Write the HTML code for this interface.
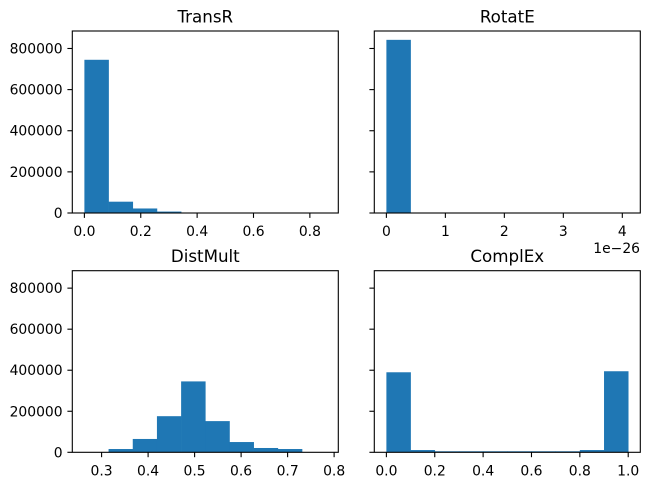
<!DOCTYPE html>
<html><head><meta charset="utf-8"><style>
html,body{margin:0;padding:0;background:#fff;}
svg{display:block;font-family:"DejaVu Sans","Liberation Sans",sans-serif;}
</style></head><body>
<svg id="fig" width="649" height="486" viewBox="0 0 649 486"></svg>
<script>
const transrEdgesStart = 0, transrBinWidth = 0.0858;
const transrCounts = [745000, 55000, 22000, 7000, 2000, 1000, 500, 300, 200, 100];
const rotateEdgesStart = 0, rotateBinWidth = 0.41;
const rotateCounts = [842000, 0, 0, 0, 0, 0, 0, 0, 0, 100];
const distmultEdgesStart = 0.263, distmultBinWidth = 0.052;
const distmultCounts = [1000, 16000, 65000, 176000, 345500, 152000, 50000, 21000, 16000, 1000];
const complexEdgesStart = 0, complexBinWidth = 0.1;
const complexCounts = [390000, 11000, 5000, 5000, 5000, 5000, 5000, 5000, 11000, 395000];
const yTicks = [0, 200000, 400000, 600000, 800000];
const transrXTicks = [0, 0.2, 0.4, 0.6, 0.8];
const rotateXTicks = [0, 1, 2, 3, 4];
const distmultXTicks = [0.3, 0.4, 0.5, 0.6, 0.7, 0.8];
const complexXTicks = [0, 0.2, 0.4, 0.6, 0.8, 1.0];
const yMax = 885000;

const NS = "http://www.w3.org/2000/svg";
const svg = document.getElementById('fig');
function mk(tag, attrs, parent){const e=document.createElementNS(NS,tag);for(const k in attrs)e.setAttribute(k,attrs[k]);(parent||svg).appendChild(e);return e;}

function panel(key, title, box, start, bw, counts, xticks, xfmt, showYLabels){
  const g = mk('g',{});
  
  
  const n = counts.length, x0 = start, x1 = start + bw*n, r = x1-x0;
  const xmin = x0 - 0.05*r, xmax = x1 + 0.05*r;
  const X = v => box.l + (v - xmin)/(xmax - xmin)*(box.r - box.l);
  const Y = v => box.b - v/yMax*(box.b - box.t);
  counts.forEach((c,i)=>{
    const xa = X(start + i*bw), xb = X(start + (i+1)*bw);
    const rect = mk('rect',{x:xa, y:Y(c), width:xb-xa+0.3, height:Math.max(0,box.b-Y(c)), fill:'#1f77b4'}, g);
    
    
  });
  const frame = mk('rect',{x:box.l, y:box.t, width:box.r-box.l, height:box.b-box.t, fill:'none', stroke:'#000', 'stroke-width':1.1}, g);
  
  
  xticks.forEach(t=>{
    const x = X(t);
    mk('line',{x1:x,x2:x,y1:box.b,y2:box.b+4.9,stroke:'#000','stroke-width':1.1},g);
    const tx = mk('text',{x:x,y:box.b+23,'font-size':13.9,'text-anchor':'middle',fill:'#000'},g);
    tx.textContent = xfmt(t);
    
    
  });
  yTicks.forEach(t=>{
    const y = Y(t);
    mk('line',{x1:box.l-4.9,x2:box.l,y1:y,y2:y,stroke:'#000','stroke-width':1.1},g);
    if(showYLabels){
      const ty = mk('text',{x:box.l-9.7,y:y+5,'font-size':13.9,'text-anchor':'end',fill:'#000'},g);
      ty.textContent = String(t);
      
      
    }
  });
  const tt = mk('text',{x:(box.l+box.r)/2,y:box.t-8.5,'font-size':16.7,'text-anchor':'middle',fill:'#000'},g);
  tt.textContent = title;
  
  
}
const f1 = t => t.toFixed(1);
panel('transr','TransR',{l:72.3,r:338.3,t:31,b:213},transrEdgesStart,transrBinWidth,transrCounts,transrXTicks,f1,true);
panel('rotate','RotatE',{l:374.3,r:640.3,t:31,b:213},rotateEdgesStart,rotateBinWidth,rotateCounts,rotateXTicks,t=>String(t),false);
panel('distmult','DistMult',{l:72.3,r:338.3,t:270.7,b:452.3},distmultEdgesStart,distmultBinWidth,distmultCounts,distmultXTicks,f1,true);
panel('complex','ComplEx',{l:374.3,r:640.3,t:270.7,b:452.3},complexEdgesStart,complexBinWidth,complexCounts,complexXTicks,f1,false);
const off = mk('text',{x:640,y:253,'font-size':13.9,'text-anchor':'end',fill:'#000'});
off.textContent = '1e\u221226';


</script>
</body></html>
